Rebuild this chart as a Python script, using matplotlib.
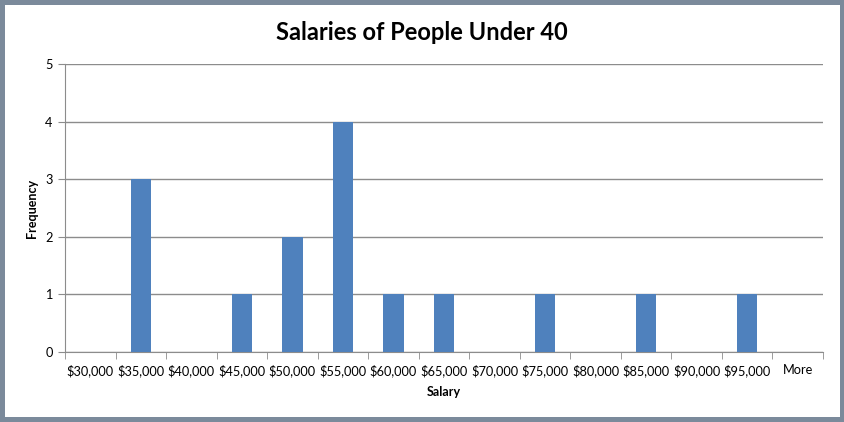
import numpy as np
import matplotlib.pyplot as plt
from matplotlib.patches import Rectangle

categories = ['$30,000', '$35,000', '$40,000', '$45,000', '$50,000', '$55,000',
              '$60,000', '$65,000', '$70,000', '$75,000', '$80,000', '$85,000',
              '$90,000', '$95,000', 'More']
frequency = [0, 3, 0, 1, 2, 4, 1, 1, 0, 1, 0, 1, 0, 1, 0]
y_ticks = [0, 1, 2, 3, 4, 5]

plt.rcParams['font.family'] = ['Lato', 'DejaVu Sans']

fig = plt.figure(figsize=(8.44, 4.22), dpi=100)
W, H = 844, 422

# slate frame around the chart
fig.patches.append(Rectangle((0, 0), 1, 1, transform=fig.transFigure,
                             facecolor='#7b8a9b', edgecolor='none', zorder=-2))
fig.patches.append(Rectangle((5 / W, 5 / H), (W - 9) / W, (H - 10) / H,
                             transform=fig.transFigure, facecolor='white',
                             edgecolor='none', zorder=-1))

left, right, top, bottom = 65, 823, 64, 352
ax = fig.add_axes([left / W, 1 - bottom / H, (right - left) / W, (bottom - top) / H])

x = np.arange(len(categories))
ax.bar(x, frequency, width=0.4, color='#4f81bd', zorder=3)

ax.set_xlim(-0.5, len(categories) - 0.5)
ax.set_ylim(0, 5)
ax.set_yticks(y_ticks)
ax.yaxis.grid(True, color='#8c8c8c', linewidth=1)
ax.set_axisbelow(True)

ax.set_xticks(x)
ax.set_xticklabels(categories, fontsize=9.2)
ax.tick_params(axis='x', length=0, pad=9)
ax.set_xticks(np.arange(len(categories) + 1) - 0.5, minor=True)
ax.tick_params(axis='x', which='minor', length=5, color='#8c8c8c', direction='out')
ax.tick_params(axis='y', length=5, color='#8c8c8c', labelsize=9.2, pad=4)

for s in ['top', 'right']:
    ax.spines[s].set_visible(False)
ax.spines['left'].set_color('#8c8c8c')
ax.spines['bottom'].set_color('#8c8c8c')

ax.set_xlabel('Salary', fontsize=9, fontweight='bold', labelpad=6)
ax.set_ylabel('Frequency', fontsize=9, fontweight='bold', labelpad=5)
fig.text(0.5, 1 - 32 / H, 'Salaries of People Under 40', ha='center', va='center',
         fontsize=17, fontweight='bold')

plt.savefig('out.png', dpi=100)
